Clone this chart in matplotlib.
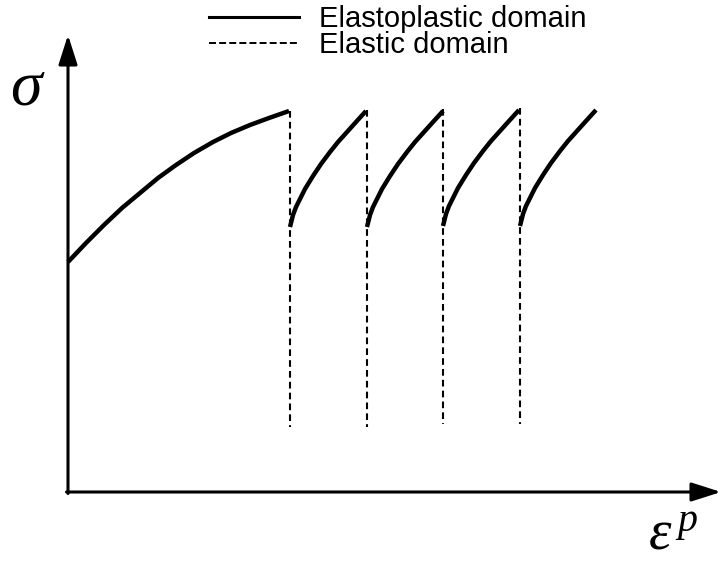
import matplotlib
matplotlib.use("Agg")
import matplotlib.pyplot as plt
from matplotlib.lines import Line2D

plt.rcParams['mathtext.fontset'] = 'custom'
plt.rcParams['mathtext.rm'] = 'Liberation Serif'
plt.rcParams['mathtext.it'] = 'Liberation Serif:italic'

# Monotonic loading branch (plastic strain, stress)
first_strain = [0, 18, 36, 54, 72, 90, 108, 126, 145, 163, 182, 201, 221]
first_stress = [230, 249, 267, 284, 299, 314, 327, 339, 350, 359, 367, 374, 381]

# Reloading branches after each elastic unload (offsets from the branch start)
reload_starts = [222, 299, 375, 452]
reload_base = [265, 265, 266, 266]
reload_dx = [0, 3, 6, 10, 15, 23, 31, 40, 48, 57, 66, 76]
reload_dy = [0, 12, 20, 28, 38, 51, 63, 75, 85, 95, 105, 116]

# Elastic unloading lines (strain, top stress, bottom stress)
elastic_strain = [222, 299, 375, 452]
elastic_top = [381, 382, 383, 384]
elastic_bottom = [65, 65, 68, 68]

fig = plt.figure(figsize=(7.21, 5.61), dpi=100)
ax = fig.add_axes([0, 0, 1, 1])
ax.set_xlim(-68, 653)
ax.set_ylim(-69, 492)
ax.axis('off')

solid_kw = dict(color='black', lw=3.2, solid_capstyle='butt', solid_joinstyle='round')
ax.plot(first_strain, first_stress, **solid_kw)
for s0, b0 in zip(reload_starts, reload_base):
    ax.plot([s0 + d for d in reload_dx], [b0 + d for d in reload_dy], **solid_kw)

for x, top, bot in zip(elastic_strain, elastic_top, elastic_bottom):
    ax.plot([x, x], [top, bot], color='black', lw=1.5, dashes=(3.2, 2.0))

# Axes with arrow heads
arrow_kw = dict(arrowstyle='-|>,head_length=1.0,head_width=0.32',
                color='black', lw=2.2, mutation_scale=18, shrinkA=0, shrinkB=0)
ax.annotate('', xy=(0, 457), xytext=(0, -1.5), arrowprops=arrow_kw)
ax.annotate('', xy=(653, 0), xytext=(-1.5, 0), arrowprops=arrow_kw)

ax.text(-40, 406, r'$\sigma$', fontsize=46, ha='center', va='center')
ax.text(605, -42, r'$\varepsilon^{\,p}$', fontsize=41, ha='center', va='center')

handles = [Line2D([], [], color='black', lw=2.2),
           Line2D([], [], color='black', lw=1.4, dashes=(3.6, 1.6))]
leg = ax.legend(handles, ['Elastoplastic domain', 'Elastic domain'],
                loc='upper left', bbox_to_anchor=(209 / 721, 1 - 5 / 561),
                frameon=False, prop={'family': 'Liberation Sans', 'size': 21},
                handlelength=3.1, handletextpad=0.68, labelspacing=-0.06,
                borderaxespad=0, borderpad=0)

fig.savefig('out.png', dpi=100)
